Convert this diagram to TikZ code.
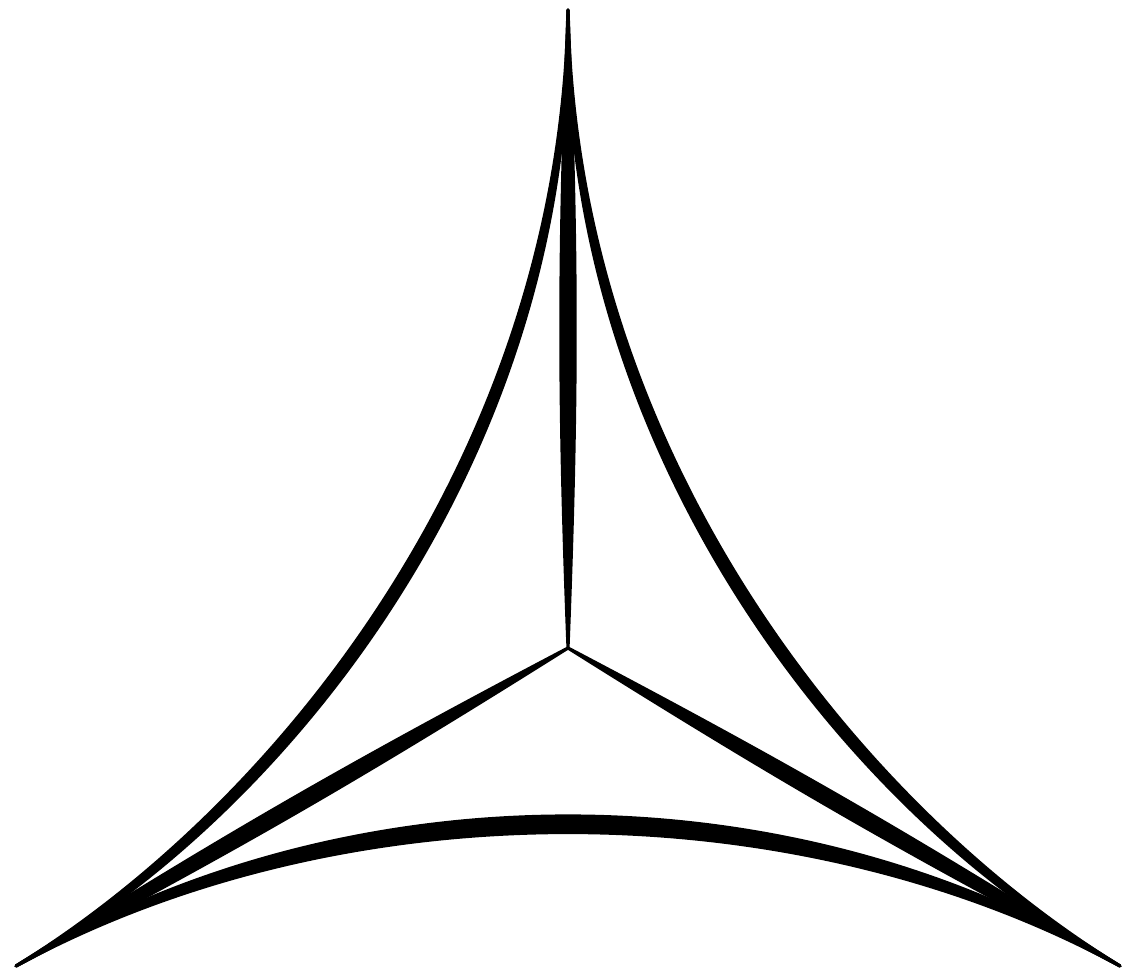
\documentclass[tikz,border=0pt]{standalone}
\begin{document}
\begin{tikzpicture}[line cap=round, line join=round,
		brush/.style={fill=black, draw=black, line width=0.9pt}]
	% Fix the page size
	\useasboundingbox (0,0) rectangle (11.26,9.78);
	
	% Tips and centre of the figure
	\coordinate (T) at (5.68,9.68);
	\coordinate (L) at (0.16,0.12);
	\coordinate (R) at (11.20,0.12);
	\coordinate (O) at (5.68,3.30);
	
	% Concave sides, each filled as a thin lens
	\fill[brush] (T) .. controls (5.60,5.18) and (2.72,1.69) .. (L)
		.. controls (2.80,1.55) and (5.76,5.18) .. (T);
	\fill[brush] (T) .. controls (5.76,5.18) and (8.64,1.69) .. (R)
		.. controls (8.56,1.55) and (5.60,5.18) .. (T);
	\fill[brush] (L) .. controls (3.44,2.12) and (7.92,2.12) .. (R)
		.. controls (7.92,1.90) and (3.44,1.90) .. (L);
	
	% Spokes from the centre to the tips
	\foreach \tip in {T,L,R}
		\fill[brush] (O) to[bend left=2.2] (\tip) to[bend left=2.2] (O);
\end{tikzpicture}
\end{document}
